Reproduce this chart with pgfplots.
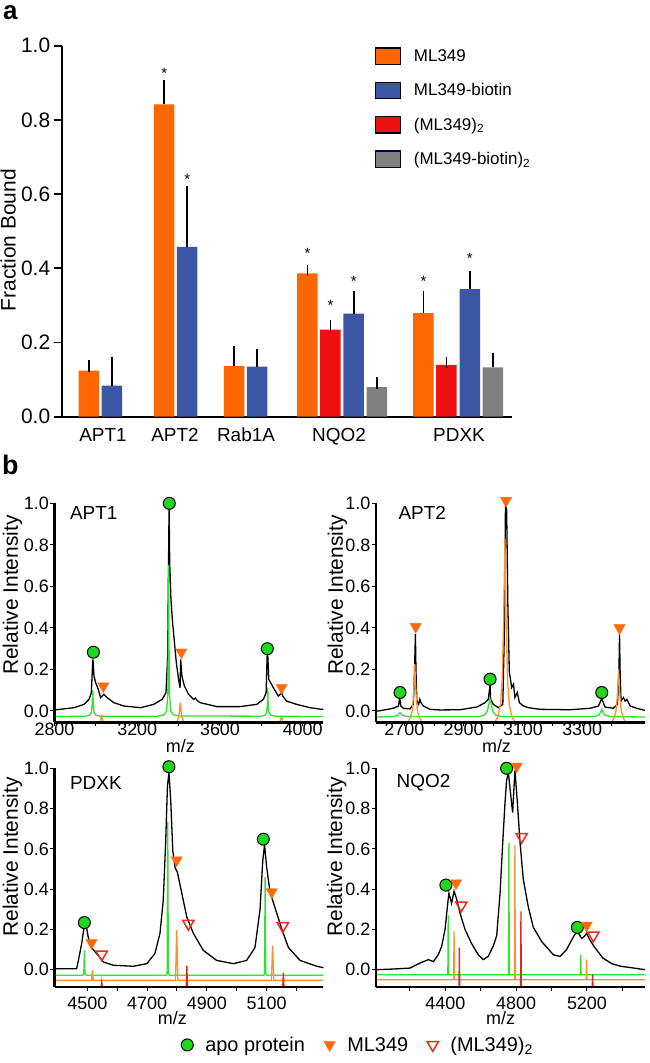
\documentclass[border=0pt]{standalone}
\usepackage{pgfplots}
\pgfplotsset{compat=1.18}
\usepackage{fontspec}
\setmainfont{Liberation Sans}
\newcommand{\fs}[1]{\fontsize{#1}{#1}\selectfont}
\definecolor{barorange}{RGB}{255,102,0}
\definecolor{barblue}{RGB}{60,86,166}
\definecolor{barred}{RGB}{238,17,17}
\definecolor{bargray}{RGB}{128,128,128}
\definecolor{lgreen}{RGB}{50,225,50}
\definecolor{lorange}{RGB}{255,145,40}
\definecolor{lred}{RGB}{225,40,20}
\definecolor{mgreen}{RGB}{30,215,30}
\definecolor{morange}{RGB}{255,105,10}
\definecolor{mred}{RGB}{230,45,30}
\pgfplotsset{
  specax/.style={scale only axis, axis lines=left, axis line style={line width=2.6bp,-},
    axis on top, clip=false, tick align=outside, major tick length=4bp, minor tick length=4bp,
    tick style={line width=1bp, black},
    ytick={0,0.2,0.4,0.6,0.8,1.0}, yticklabels={0.0,0.2,0.4,0.6,0.8,1.0},
    yticklabel style={font=\fs{18}, inner sep=1.5bp},
    xticklabel style={font=\fs{18}, inner sep=0bp},
    ylabel={Relative Intensity}, xlabel={m/z},
    xlabel style={font=\fs{18}, anchor=center},
  },
  blk/.style={black, line width=1.3bp},
  grn/.style={lgreen, line width=1.3bp},
  org/.style={lorange, line width=1.3bp},
  rdl/.style={lred, line width=1.3bp},
  gmk/.style={only marks, mark=*, mark size=6bp, mark options={fill=mgreen, draw=black, line width=1bp}},
  omk/.style={only marks, mark=triangle*, mark size=6.5bp, mark options={rotate=180, fill=morange, draw=morange}},
  rmk/.style={only marks, mark=triangle, mark size=6.5bp, mark options={rotate=180, draw=mred, line width=1.5bp}},
  barerr/.style={ybar, bar width=20.5, bar shift=0pt, draw=none, forget plot,
    error bars/y dir=plus, error bars/y explicit,
    error bars/error bar style={line width=1.7bp, black},
    error bars/error mark options={line width=1.7bp, black, mark size=5.8bp}},
  boxleg/.style 2 args={legend image code/.code={\draw[fill=#1,draw=#2,line width=1.4bp] (0bp,-8.25bp) rectangle (25bp,8.25bp); \path (0bp,0bp) (36bp,0bp);}},
}
\begin{document}
\begin{tikzpicture}
\path[use as bounding box] (0bp,0bp) rectangle (650bp,-1063bp);
\node[anchor=north west, inner sep=0pt, font=\bfseries\fs{26}] at (3bp,-5bp) {a};
\node[anchor=north west, inner sep=0pt, font=\bfseries\fs{27}] at (2bp,-455bp) {b};
% ---------------- panel a
\begin{axis}[scale only axis, width=450bp, height=371bp, at={(61.7bp,-416.7bp)}, anchor=south west,
  xmin=61.7, xmax=511.7, ymin=0, ymax=1,
  axis lines=left, axis line style={line width=2bp,-},
  xtick={103,175,246,339,459}, xticklabels={APT1,APT2,Rab1A,NQO2,PDXK},
  x tick style={draw=none},
  ytick={0,0.2,0.4,0.6,0.8,1.0}, yticklabels={0.0,0.2,0.4,0.6,0.8,1.0},
  y tick style={line width=1.7bp, black}, tick align=outside, major tick length=8bp,
  xticklabel style={font=\fs{19}},
  yticklabel style={font=\fs{21}},
  ylabel={Fraction Bound},
  ylabel style={font=\fs{21}, at={(axis description cs:-0.119,0.476)}, anchor=center},
  clip=false,
  legend cell align=left,
  legend style={draw=none, fill=none, at={(axis description cs:0.696,0.9965)}, anchor=north west,
    font=\fs{17}, row sep=16.5bp, inner sep=0pt},
]
\addplot[fill=barorange, barerr] coordinates {
 (89.0,0.124) +- (0,0.013)
 (164.2,0.842) +- (0,0.050)
 (234.2,0.136) +- (0,0.040)
 (307.5,0.386) +- (0,0.008)
 (423.5,0.279) +- (0,0.044)
};
\addplot[fill=barblue, barerr] coordinates {
 (112.0,0.084) +- (0,0.062)
 (187.2,0.458) +- (0,0.147)
 (257.2,0.135) +- (0,0.033)
 (353.7,0.278) +- (0,0.045)
 (469.8,0.344) +- (0,0.033)
};
\addplot[fill=barred, barerr] coordinates {
 (330.5,0.235) +- (0,0.010)
 (446.5,0.140) +- (0,0.006)
};
\addplot[fill=bargray, barerr] coordinates {
 (377.0,0.080) +- (0,0.011)
 (493.0,0.133) +- (0,0.024)
};
\addlegendimage{boxleg={barorange}{black}}
\addlegendentry{ML349}
\addlegendimage{boxleg={barblue}{black}}
\addlegendentry{ML349-biotin}
\addlegendimage{boxleg={barred}{black}}
\addlegendentry{(ML349)\textsubscript{2}}
\addlegendimage{boxleg={bargray}{black!70!blue}}
\addlegendentry{(ML349-biotin)\textsubscript{2}}
\foreach \xx/\yy in {164.2/0.934, 187.2/0.650, 307.5/0.451, 330.5/0.310, 353.7/0.375, 423.5/0.375, 469.8/0.435}{
  \edef\tmp{\noexpand\node[font=\noexpand\fs{15}, yshift=-3.5bp] at (axis cs:\xx,\yy) {*};}\tmp
}
\end{axis}
% ---------------- APT1
\begin{axis}[specax, width=268.9bp, height=219.1bp, at={(54.5bp,-722.4bp)}, anchor=south west,
  xmin=2800, xmax=4100, ymin=-0.055, ymax=1.0,
  xtick={2800,3200,3600,4000}, xticklabels={2800,3200,3600,4000},
  minor xtick={3000,3400,3800},
  xticklabel style={yshift=4bp},
  ylabel style={font=\fs{21}, at={(axis description cs:-0.156,0.581)}, anchor=center},
  xlabel style={at={(axis description cs:0.468,-0.108)}},
]
\addplot[blk] coordinates {
(2800,0.005) (2895,0.016) (2943,0.032) (2967,0.056) (2978,0.088) (2983,0.20) (2986,0.25)
(2991,0.168) (2999,0.136) (3012,0.104) (3023,0.064) (3031,0.072) (3039,0.080) (3055,0.064)
(3087,0.040) (3135,0.024) (3216,0.016) (3280,0.032) (3320,0.056) (3339,0.088) (3347,0.26)
(3351,0.68) (3354,0.99) (3357,0.71) (3363,0.536) (3371,0.424) (3380,0.328) (3389,0.232)
(3400,0.152) (3407,0.112) (3410,0.248) (3416,0.168) (3428,0.12) (3448,0.08) (3473,0.056)
(3481,0.062) (3490,0.05) (3505,0.04) (3585,0.021) (3697,0.021) (3778,0.032) (3810,0.056)
(3823,0.088) (3828,0.264) (3831,0.27) (3836,0.152) (3845,0.136) (3858,0.112) (3882,0.072)
(3898,0.085) (3905,0.07) (3922,0.048) (3970,0.032) (4035,0.016) (4091,0.008) (4100,0.008)
};
\addplot[grn] coordinates {
(2800,-0.027) (2950,-0.025) (2970,-0.02) (2979,-0.005) (2982,0.03) (2985,0.10) (2988,0.03)
(2991,-0.005) (3000,-0.02) (3020,-0.025) (3300,-0.025) (3330,-0.018) (3342,0.0) (3348,0.08)
(3350,0.3) (3352,0.704) (3354,0.3) (3356,0.08) (3362,0.0) (3374,-0.018) (3400,-0.024)
(3800,-0.025) (3818,-0.02) (3826,-0.005) (3829,0.03) (3831,0.112) (3833,0.03) (3836,-0.005)
(3844,-0.02) (3870,-0.025) (4100,-0.027)
};
\addplot[org] coordinates {
(2800,-0.055) (3020,-0.055) (3028,-0.025) (3036,-0.055) (3392,-0.055) (3402,-0.02) (3406,0.02)
(3408,0.04) (3410,0.02) (3414,-0.02) (3424,-0.055) (3888,-0.055) (3897,-0.028) (3906,-0.055) (4100,-0.055)
};
\addplot[gmk] coordinates {(2988,0.283) (3355,1.0) (3829,0.30)};
\addplot[omk] coordinates {(3036,0.12) (3413,0.283) (3898,0.112)};
\node[anchor=west, font=\fs{19}] at (axis description cs:0.045,0.956) {APT1};
\end{axis}
% ---------------- APT2
\begin{axis}[specax, width=269bp, height=219.1bp, at={(376bp,-722.4bp)}, anchor=south west,
  xmin=2604, xmax=3512, ymin=-0.055, ymax=1.0,
  xtick={2700,2900,3100,3300}, xticklabels={2700,2900,3100,3300},
  minor xtick={2800,3000,3200,3400},
  xticklabel style={yshift=4bp},
  ylabel style={font=\fs{21}, at={(axis description cs:-0.143,0.581)}, anchor=center},
  xlabel style={at={(axis description cs:0.448,-0.108)}},
]
\addplot[blk] coordinates {
(2604,0.0) (2612,0.0) (2662,0.013) (2680,0.024) (2684,0.065) (2688,0.024) (2696,0.013)
(2719,0.010) (2730,0.032) (2734,0.19) (2737,0.37) (2739,0.19) (2742,0.048) (2748,0.032)
(2752,0.056) (2756,0.040) (2764,0.024) (2786,0.008) (2820,0.005) (2888,0.006) (2944,0.019)
(2972,0.040) (2983,0.056) (2989,0.125) (2991,0.056) (3000,0.032) (3017,0.016) (3032,0.032)
(3037,0.355) (3041,0.99) (3045,0.97) (3049,0.516) (3054,0.19) (3062,0.113) (3068,0.129)
(3073,0.065) (3081,0.089) (3088,0.040) (3102,0.024) (3118,0.016) (3158,0.008) (3259,0.006)
(3327,0.013) (3355,0.024) (3366,0.06) (3377,0.019) (3405,0.013) (3419,0.032) (3424,0.19)
(3426,0.37) (3428,0.19) (3431,0.048) (3439,0.065) (3445,0.048) (3451,0.056) (3462,0.024)
(3484,0.013) (3512,0.003)
};
\addplot[grn] coordinates {
(2604,-0.029) (2660,-0.027) (2675,-0.022) (2681,-0.015) (2685,-0.008) (2689,-0.015) (2695,-0.022)
(2710,-0.027) (2950,-0.027) (2970,-0.02) (2980,0.0) (2986,0.04) (2989,0.056) (2992,0.04)
(2998,0.0) (3008,-0.02) (3030,-0.027) (3340,-0.027) (3355,-0.02) (3362,-0.008) (3366,0.008)
(3370,-0.008) (3377,-0.02) (3395,-0.027) (3512,-0.029)
};
\addplot[org] coordinates {
(2604,-0.055) (2712,-0.055) (2720,-0.03) (2726,0.0) (2730,0.06) (2733,0.15) (2735,0.226)
(2737,0.15) (2740,0.06) (2744,0.0) (2750,-0.03) (2760,-0.055)
(3005,-0.055) (3015,-0.03) (3024,0.03) (3030,0.15) (3035,0.45) (3039,0.83) (3043,0.45)
(3048,0.15) (3054,0.03) (3063,-0.03) (3075,-0.055)
(3400,-0.055) (3408,-0.03) (3414,0.0) (3418,0.06) (3421,0.14) (3423,0.2) (3425,0.14)
(3428,0.06) (3432,0.0) (3438,-0.03) (3446,-0.055) (3512,-0.055)
};
\addplot[gmk] coordinates {(2685,0.089) (2989,0.153) (3366,0.089)};
\addplot[omk] coordinates {(2738,0.406) (3043,1.013) (3426,0.40)};
\node[anchor=west, font=\fs{19}] at (axis description cs:0.071,0.956) {APT2};
\end{axis}
% ---------------- PDXK
\begin{axis}[specax, width=268.9bp, height=218.5bp, at={(54.5bp,-986.8bp)}, anchor=south west,
  xmin=4390, xmax=5290, ymin=-0.085, ymax=1.0,
  xtick={4500,4700,4900,5100}, xticklabels={4500,4700,4900,5100},
  minor xtick={4600,4800,5000,5200},
  xticklabel style={yshift=-6bp},
  ylabel style={font=\fs{21}, at={(axis description cs:-0.156,0.594)}, anchor=center},
  xlabel style={at={(axis description cs:0.438,-0.143)}},
  legend style={at={(axis description cs:1.129,-0.266)}, anchor=center, draw=none, fill=none,
    legend columns=3, font=\fs{20},
    /tikz/every odd column/.append style={column sep=10bp},
    /tikz/every even column/.append style={column sep=17bp}},
]
\addlegendimage{gmk}
\addlegendentry{apo protein}
\addlegendimage{omk}
\addlegendentry{ML349}
\addlegendimage{rmk}
\addlegendentry{(ML349)\textsubscript{2}}
\addplot[blk] coordinates {
(4390,0.005) (4464,0.005) (4470,0.046) (4481,0.13) (4489,0.21) (4495,0.23) (4503,0.16)
(4514,0.11) (4531,0.08) (4554,0.038) (4587,0.022) (4654,0.017) (4699,0.03) (4726,0.08)
(4743,0.18) (4754,0.345) (4762,0.63) (4768,0.91) (4773,0.98) (4779,0.84) (4786,0.59)
(4793,0.51) (4802,0.48) (4816,0.38) (4833,0.26) (4855,0.18) (4888,0.096) (4933,0.046)
(4989,0.03) (5033,0.046) (5061,0.11) (5078,0.30) (5087,0.54) (5093,0.62) (5100,0.51)
(5112,0.38) (5120,0.345) (5134,0.28) (5151,0.20) (5173,0.11) (5212,0.046) (5268,0.017) (5290,0.01)
};
\addplot[grn] coordinates {
(4390,-0.028) (4484,-0.028) (4488,-0.02) (4490,0.096) (4492,-0.02) (4496,-0.028)
(4763,-0.028) (4767,-0.018) (4769,0.735) (4771,-0.018) (4775,-0.028)
(5089,-0.028) (5093,-0.02) (5095,0.46) (5097,-0.02) (5101,-0.028) (5290,-0.028)
};
\addplot[org] coordinates {
(4390,-0.053) (4514,-0.053) (4517,-0.003) (4520,-0.053)
(4795,-0.053) (4799,0.196) (4803,-0.053)
(5116,-0.053) (5120,0.12) (5124,-0.053) (5290,-0.053)
};
\addplot[rdl] coordinates {
(4390,-0.085) (4546,-0.085) (4548,-0.06) (4550,-0.085)
(4831,-0.085) (4833,0.02) (4835,-0.085)
(5154,-0.085) (5156,-0.015) (5158,-0.085) (5290,-0.085)
};
\addplot[gmk] coordinates {(4490,0.234) (4773,1.008) (5089,0.648)};
\addplot[omk] coordinates {(4514,0.133) (4799,0.544) (5117,0.386)};
\addplot[rmk] coordinates {(4548,0.076) (4838,0.229) (5154,0.217)};
\node[anchor=west, font=\fs{19}] at (axis description cs:0.045,0.935) {PDXK};
\end{axis}
% ---------------- NQO2
\begin{axis}[specax, width=269bp, height=218.5bp, at={(376bp,-986.8bp)}, anchor=south west,
  xmin=4008, xmax=5528, ymin=-0.085, ymax=1.0,
  xtick={4000,4400,4800,5200}, xticklabels={4000,4400,4800,5200},
  minor xtick={4200,4600,5000,5400},
  xticklabel style={yshift=-6bp},
  ylabel style={font=\fs{21}, at={(axis description cs:-0.146,0.594)}, anchor=center},
  xlabel style={at={(axis description cs:0.463,-0.143)}},
]
\addplot[blk] coordinates {
(4008,0.0) (4100,0.003) (4200,0.008) (4257,0.033) (4304,0.05) (4332,0.04) (4360,0.075)
(4379,0.116) (4398,0.2) (4411,0.31) (4420,0.38) (4435,0.33) (4449,0.39) (4464,0.35)
(4483,0.28) (4511,0.2) (4548,0.13) (4586,0.074) (4614,0.05) (4642,0.066) (4672,0.12)
(4690,0.17) (4709,0.38) (4724,0.63) (4737,0.83) (4746,0.94) (4756,0.98) (4770,0.86)
(4780,0.78) (4793,0.99) (4806,0.84) (4822,0.63) (4840,0.45) (4869,0.31) (4897,0.21)
(4944,0.14) (5010,0.074) (5048,0.066) (5085,0.10) (5115,0.15) (5135,0.18) (5150,0.185)
(5170,0.155) (5185,0.165) (5198,0.18) (5215,0.15) (5240,0.115) (5290,0.058) (5340,0.03)
(5390,0.017) (5450,0.01) (5528,0.0)
};
\addplot[grn] coordinates {
(4008,-0.025) (4412,-0.025) (4414,-0.015) (4416,0.27) (4418,-0.015) (4420,-0.025)
(4755,-0.025) (4757,-0.015) (4759,0.63) (4761,-0.015) (4763,-0.025)
(5161,-0.025) (5163,-0.015) (5165,0.074) (5167,-0.015) (5169,-0.025) (5528,-0.025)
};
\addplot[org] coordinates {
(4008,-0.05) (4445,-0.05) (4447,-0.04) (4449,0.19) (4451,-0.04) (4453,-0.05)
(4789,-0.05) (4791,-0.04) (4793,0.62) (4795,-0.04) (4797,-0.05)
(5194,-0.05) (5196,-0.04) (5198,0.05) (5200,-0.04) (5202,-0.05) (5528,-0.05)
};
\addplot[rdl] coordinates {
(4008,-0.085) (4477,-0.085) (4479,0.11) (4481,-0.085)
(4825,-0.085) (4827,0.29) (4829,-0.085)
(5230,-0.085) (5232,-0.025) (5234,-0.085) (5528,-0.085)
};
\addplot[gmk] coordinates {(4403,0.42) (4746,1.0) (5146,0.21)};
\addplot[omk] coordinates {(4460,0.43) (4803,1.01) (5198,0.22)};
\addplot[rmk] coordinates {(4490,0.32) (4831,0.66) (5236,0.17)};
\node[anchor=west, font=\fs{19}] at (axis description cs:0.064,0.935) {NQO2};
\end{axis}
\end{tikzpicture}
\end{document}
